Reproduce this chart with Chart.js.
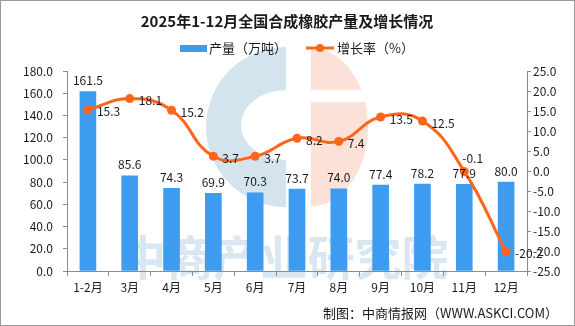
<!DOCTYPE html>
<html>
<head>
<meta charset="utf-8">
<script src="https://cdn.jsdelivr.net/npm/chart.js@4/dist/chart.umd.min.js"></script>
<style>
  html, body { margin: 0; padding: 0; background: #fff; }
  #wrap { width: 575px; height: 326px; }
</style>
</head>
<body>
<div id="wrap"><canvas id="rubberChart" width="575" height="326"></canvas></div>
<script>
//* Data //*
var categories = ['1-2月', '3月', '4月', '5月', '6月', '7月', '8月', '9月', '10月', '11月', '12月'];
var outputVals = [161.5, 85.6, 74.3, 69.9, 70.3, 73.7, 74.0, 77.4, 78.2, 77.9, 80.0];   // 产量（万吨）
var growthVals = [15.3, 18.1, 15.2, 3.7, 3.7, 8.2, 7.4, 13.5, 12.5, -0.1, -20.2];       // 增长率（%）
var leftRange = [0, 180, 20];
var rightRange = [-25, 25, 5];

var titleText = '2025年1-12月全国合成橡胶产量及增长情况';
var seriesNames = ['产量（万吨）', '增长率（%）'];
var sourceText = '制图：中商情报网（WWW.ASKCI.COM）';

var barColour = '#3d9cf0';
var lineColour = '#ff661a';
var axisColour = '#8c8c8c';
var textColour = '#1a1a1a';
var fontName = '"Noto Sans CJK SC", "Noto Sans", sans-serif';

// Faint logo and name behind the chart.
var watermark = {
    id: 'watermark',
    beforeDraw: function(chart) {
        var ctx = chart.ctx;
        ctx.save();
        ctx.fillStyle = '#d3e4ef';
        ctx.beginPath();
        ctx.ellipse(286, 127, 80, 80, 0, Math.PI / 2, Math.PI * 1.5);
        ctx.closePath();
        ctx.moveTo(286, 160);
        ctx.ellipse(286, 125, 45, 35, 0, Math.PI / 2, Math.PI * 1.5);
        ctx.closePath();
        ctx.fill('evenodd');

        ctx.fillStyle = '#fbe1d7';
        ctx.beginPath();
        ctx.ellipse(311, 127, 57, 79, 0, -Math.PI / 2, Math.PI / 2);
        ctx.closePath();
        ctx.fill();
        ctx.fillStyle = '#ffffff';
        ctx.fillRect(311, 90, 60, 12);

        ctx.fillStyle = '#d8e7f1';
        ctx.font = 'bold 47px ' + fontName;
        ctx.textAlign = 'center';
        ctx.textBaseline = 'middle';
        ctx.fillText('中商产业研究院', 284, 257);
        ctx.restore();
    }
};

// Title, legend, value labels, source line and frame.
var decorations = {
    id: 'decorations',
    afterDatasetsDraw: function(chart) {
        var ctx = chart.ctx;
        ctx.save();
        ctx.fillStyle = textColour;
        ctx.font = '12px ' + fontName;

        // bar values above each bar
        var bars = chart.getDatasetMeta(0).data;
        ctx.textAlign = 'center';
        ctx.textBaseline = 'bottom';
        bars.forEach(function(bar, i) {
            ctx.fillText(outputVals[i].toFixed(1), bar.x, bar.y - 5);
        });

        // growth values right of each point, lifted above when they would hit the bar label
        ctx.textAlign = 'left';
        ctx.textBaseline = 'middle';
        chart.getDatasetMeta(1).data.forEach(function(pt, i) {
            var barLabelY = bars[i].y - 12;
            if (Math.abs(pt.y - barLabelY) < 14) {
                ctx.fillText(growthVals[i].toFixed(1), pt.x - 2, pt.y - 13);
            } else {
                ctx.fillText(growthVals[i].toFixed(1), pt.x + 9, pt.y + 2);
            }
        });
        ctx.restore();
    },
    afterDraw: function(chart) {
        var ctx = chart.ctx;
        ctx.save();
        ctx.fillStyle = textColour;

        ctx.font = 'bold 15px ' + fontName;
        ctx.textAlign = 'center';
        ctx.textBaseline = 'middle';
        ctx.fillText(titleText, 287, 21);

        // legend
        ctx.font = '13px ' + fontName;
        ctx.textAlign = 'left';
        ctx.fillStyle = barColour;
        ctx.fillRect(180, 45, 27, 7);
        ctx.fillStyle = textColour;
        ctx.fillText(seriesNames[0], 209, 48);

        ctx.strokeStyle = lineColour;
        ctx.lineWidth = 3;
        ctx.beginPath();
        ctx.moveTo(306, 48);
        ctx.lineTo(334, 48);
        ctx.stroke();
        ctx.fillStyle = lineColour;
        ctx.beginPath();
        ctx.arc(320, 48, 4, 0, Math.PI * 2);
        ctx.fill();
        ctx.fillStyle = textColour;
        ctx.fillText(seriesNames[1], 337, 48);

        // source
        ctx.font = '13px ' + fontName;
        ctx.textAlign = 'right';
        ctx.fillText(sourceText, 558, 313);

        // frame
        ctx.strokeStyle = '#9a9a9a';
        ctx.lineWidth = 1;
        ctx.strokeRect(0.5, 0.5, chart.width - 1, chart.height - 1);
        ctx.restore();
    }
};

function makeChart() {
    var canvas = document.getElementById('rubberChart').getContext('2d');
    return new Chart(canvas, {
        data: {
            labels: categories,
            datasets: [{
                type: 'bar',
                label: seriesNames[0],
                data: outputVals,
                backgroundColor: barColour,
                barThickness: 16,
                yAxisID: 'y',
                order: 1
            }, {
                type: 'line',
                label: seriesNames[1],
                data: growthVals,
                borderColor: lineColour,
                backgroundColor: lineColour,
                borderWidth: 3,
                pointRadius: 4.5,
                pointBorderWidth: 0,
                tension: 0.45,
                yAxisID: 'y1',
                order: 0
            }]
        },
        options: {
            responsive: false,
            animation: false,
            layout: { padding: { top: 71, left: 0, right: 0, bottom: 0 } },
            plugins: {
                legend: { display: false },
                title: { display: false },
                tooltip: { enabled: false }
            },
            scales: {
                x: {
                    offset: true,
                    grid: { offset: true, drawOnChartArea: false, color: axisColour, tickLength: 5 },
                    border: { color: axisColour },
                    ticks: { color: textColour, font: { family: fontName, size: 12 }, padding: 4, maxRotation: 0 },
                    afterFit: function(scale) { scale.height = 55; }
                },
                y: {
                    position: 'left',
                    min: leftRange[0], max: leftRange[1],
                    grid: { drawOnChartArea: false, color: axisColour, tickLength: 4 },
                    border: { color: axisColour },
                    ticks: {
                        stepSize: leftRange[2], color: textColour, padding: 10,
                        font: { family: fontName, size: 12 },
                        callback: function(v) { return v.toFixed(1); }
                    },
                    afterFit: function(scale) { scale.width = 67; }
                },
                y1: {
                    position: 'right',
                    min: rightRange[0], max: rightRange[1],
                    grid: { drawOnChartArea: false, color: axisColour, tickLength: 4 },
                    border: { color: axisColour },
                    ticks: {
                        stepSize: rightRange[2], color: textColour, padding: 2,
                        font: { family: fontName, size: 12 },
                        callback: function(v) { return v.toFixed(1); }
                    },
                    afterFit: function(scale) { scale.width = 48; }
                }
            }
        },
        plugins: [watermark, decorations]
    });
}

var rubberChart = makeChart();
</script>
</body>
</html>
